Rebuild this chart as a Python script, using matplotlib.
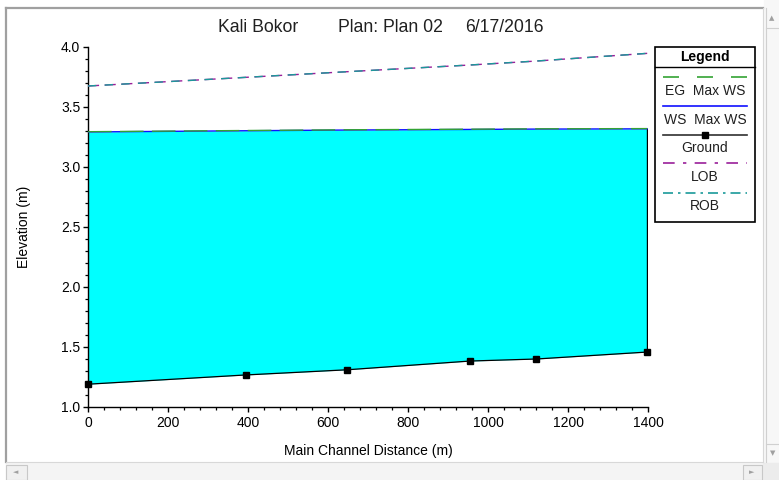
import matplotlib.pyplot as plt
from matplotlib.patches import Rectangle
from matplotlib.lines import Line2D
from matplotlib.ticker import MultipleLocator

plt.rcParams['font.family'] = ['Liberation Sans', 'DejaVu Sans']

# profile data along the main channel
station = [0, 394, 647, 955, 1121, 1398]
ground = [1.19, 1.267, 1.31, 1.383, 1.40, 1.458]
ws_max = [3.292, 3.302, 3.308, 3.313, 3.316, 3.318]
eg_max = [3.294, 3.304, 3.310, 3.315, 3.318, 3.320]
lob = [3.675, 3.747, 3.794, 3.850, 3.883, 3.947]
rob = [3.675, 3.747, 3.794, 3.850, 3.883, 3.947]

title_parts = ['Kali Bokor', 'Plan: Plan 02', '6/17/2016']
legend_names = ['EG  Max WS', 'WS  Max WS', 'Ground', 'LOB', 'ROB']

W, H = 779, 480
fig = plt.figure(figsize=(W / 100, H / 100), dpi=100)

# window chrome in pixel coordinates
bg = fig.add_axes([0, 0, 1, 1])
bg.set_xlim(0, W)
bg.set_ylim(H, 0)
bg.axis('off')
bg.add_patch(Rectangle((0, 0), W, H, color='white', zorder=0))
bg.plot([6, 6], [8, 462], color='#a0a0a0', lw=1.6)
bg.plot([6, 763], [8, 8], color='#a0a0a0', lw=1.6)
bg.plot([763, 763], [8, 462], color='#d8d8d8', lw=0.8)
bg.plot([6, 763], [462, 462], color='#d8d8d8', lw=0.8)
# horizontal scrollbar
bg.add_patch(Rectangle((6, 463), 757, 17, color='#f4f4f4', zorder=1))
bg.add_patch(Rectangle((6, 465), 21, 15, facecolor='#f0f0f0', edgecolor='#c8c8c8', lw=0.8, zorder=2))
bg.add_patch(Rectangle((743, 465), 19, 15, facecolor='#f0f0f0', edgecolor='#c8c8c8', lw=0.8, zorder=2))
bg.text(16, 472, '◄', fontsize=5, color='#a0a0a0', ha='center', va='center', family='DejaVu Sans')
bg.text(752, 472, '►', fontsize=5, color='#a0a0a0', ha='center', va='center', family='DejaVu Sans')
# vertical scrollbar
bg.add_patch(Rectangle((764, 0), 15, 463, color='#f7f7f7', zorder=1))
bg.plot([766, 766], [8, 462], color='#d0d0d0', lw=0.8)
bg.plot([766, 779], [28, 28], color='#d0d0d0', lw=0.8)
bg.plot([766, 779], [444, 444], color='#d0d0d0', lw=0.8)
bg.add_patch(Rectangle((763, 463), 16, 17, color='#ececec', zorder=1))
bg.text(772, 18, '▲', fontsize=5, color='#a0a0a0', ha='center', va='center', family='DejaVu Sans')
bg.text(773, 453, '▼', fontsize=5, color='#a0a0a0', ha='center', va='center', family='DejaVu Sans')

# title
for txt, x in zip(title_parts, [218, 338, 465]):
    bg.text(x, 27, txt, fontsize=12.7, ha='left', va='center', color='#202020')

# legend box
bg.add_patch(Rectangle((655, 47), 100, 175, facecolor='white', edgecolor='black', lw=1.2, zorder=3))
bg.plot([655, 755], [67, 67], color='black', lw=1.0, zorder=4)
bg.text(705, 57, 'Legend', fontsize=10, fontweight='bold', ha='center', va='center', zorder=4)
line_y = [77, 106, 135, 163, 193]
text_y = [91, 120, 148, 177, 206]
styles = [
    dict(color='#33a333', lw=1.2, dashes=(9.6, 10.8)),
    dict(color='#1010ff', lw=1.2),
    dict(color='#303030', lw=1.2),
    dict(color='#9a1f9a', lw=1.2, dashes=(7, 5, 2, 5)),
    dict(color='#1a9a9a', lw=1.2, dashes=(6, 3, 1.5, 3)),
]
for name, ly, ty, st in zip(legend_names, line_y, text_y, styles):
    bg.add_line(Line2D([663, 747], [ly, ly], zorder=4, **st))
    bg.text(705, ty, name, fontsize=10, ha='center', va='center', zorder=4, color='#202020')
bg.plot([705], [135], marker='s', ms=5, color='black', zorder=5)

# profile plot
ax = fig.add_axes([88 / W, 73 / H, 560 / W, 360 / H])
ax.patch.set_alpha(0)
ax.fill_between(station, ground, ws_max, color='#00ffff', lw=0, zorder=1)
ax.plot([station[-1], station[-1]], [ground[-1], ws_max[-1]], color='black', lw=1, zorder=2)
ax.plot(station, ws_max, color='#1010ff', lw=1, zorder=3)
ax.plot(station, eg_max, color='#33a333', lw=1, dashes=(17, 6), zorder=4)
ax.plot(station, ground, color='black', lw=0.9, marker='s', ms=4.5, zorder=5, clip_on=False)
ax.plot(station, lob, color='#9a1f9a', lw=1, dashes=(8, 4), zorder=3)
ax.plot(station, rob, color='#1a9a9a', lw=1, dashes=(6, 6), zorder=4)

ax.set_xlim(0, 1400)
ax.set_ylim(1.0, 4.0)
ax.xaxis.set_major_locator(MultipleLocator(200))
ax.xaxis.set_minor_locator(MultipleLocator(40))
ax.yaxis.set_major_locator(MultipleLocator(0.5))
ax.yaxis.set_minor_locator(MultipleLocator(0.1))
ax.yaxis.set_major_formatter(plt.FormatStrFormatter('%.1f'))
for s in ['top', 'right']:
    ax.spines[s].set_visible(False)
for s in ['left', 'bottom']:
    ax.spines[s].set_linewidth(1.0)
ax.tick_params(which='major', length=3.6, width=1.0, labelsize=10, pad=2, colors='black')
ax.tick_params(which='minor', length=2.3, width=0.9)
ax.tick_params(axis='x', pad=3)

ax.set_xlabel('Main Channel Distance (m)', fontsize=10)
ax.set_ylabel('Elevation (m)', fontsize=10)
ax.xaxis.set_label_coords((368 - 88) / 560, -(444 - 407) / 360)
ax.yaxis.set_label_coords(-(88 - 31) / 560, (407 - 227) / 360)

fig.savefig('out.png', dpi=100)
